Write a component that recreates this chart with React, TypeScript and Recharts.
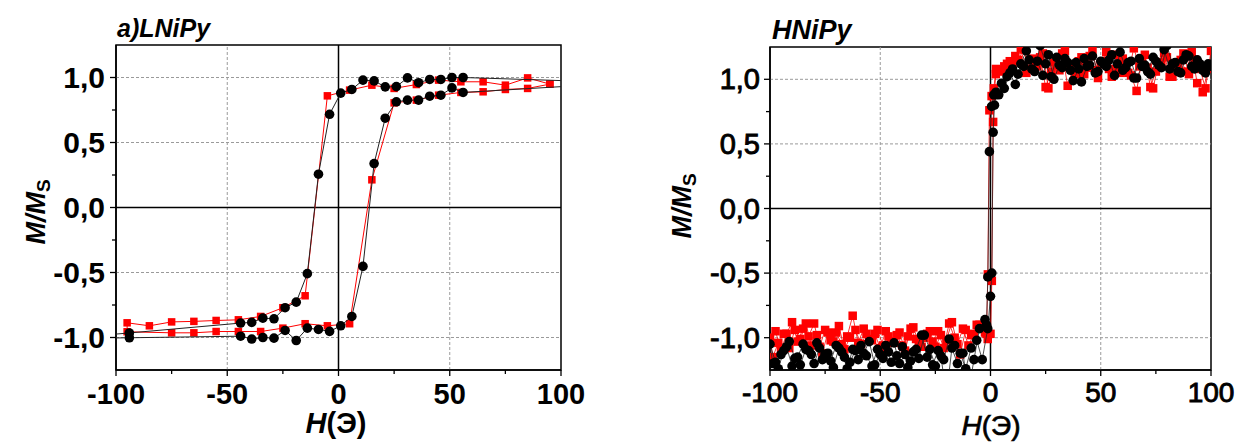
import { ScatterChart, Scatter, XAxis, YAxis, ReferenceLine, ReferenceArea } from 'recharts';

// ---- a) LNiPy : loop read point by point (H in Oe, M/Ms) ----
// black circles: descending branch, then ascending branch (end points past ±100 are clipped)
const lBlackDownH = [130, 56, 51, 46, 41, 36, 31, 26, 21, 16, 11, 6, 1, -4, -9, -14, -19, -24, -29, -34, -39, -44, -94, -125];
const lBlackDownM = [0.96, 1.0, 1.0, 0.985, 0.985, 0.96, 0.997, 0.93, 0.928, 0.974, 0.98, 0.908, 0.88, 0.717, 0.256, -0.509, -0.728, -0.771, -0.856, -0.851, -0.884, -0.889, -0.965, -1.01];
const lBlackUpH = [-94, -44, -39, -34, -29, -24, -19, -14, -9, -4, 1, 6, 11, 16, 21, 26, 31, 36, 41, 46, 51, 56, 130];
const lBlackUpM = [-1.002, -0.99, -1.012, -1.0, -1.005, -0.946, -1.023, -0.928, -0.938, -0.953, -0.91, -0.838, -0.453, 0.338, 0.687, 0.813, 0.826, 0.826, 0.856, 0.864, 0.92, 0.885, 0.96];
// red squares
const lRedDownH = [95, 85, 75, 65, 55, 45, 35, 25, 15, 5, -5, -15, -25, -35, -45, -55, -65, -75, -85, -95];
const lRedDownM = [0.949, 0.997, 0.941, 0.967, 0.967, 0.98, 0.946, 0.916, 0.941, 0.903, 0.859, -0.679, -0.771, -0.838, -0.864, -0.869, -0.876, -0.88, -0.91, -0.887];
const lRedUpH = [-95, -75, -65, -55, -45, -35, -25, -15, -5, 5, 15, 25, 35, 45, 55, 65, 75, 85, 95];
const lRedUpM = [-0.956, -0.964, -0.964, -0.954, -0.954, -0.954, -0.928, -0.894, -0.91, -0.894, 0.213, 0.805, 0.826, 0.864, 0.885, 0.89, 0.908, 0.916, 0.949];

// ---- HNiPy : dense noisy loop, field grids per branch ----
const hDownHigh = [100, 97.5, 95, 92.5, 90, 87.5, 85, 82.5, 80, 77.5, 75, 72.5, 70, 67.5, 65, 62.5, 60, 57.5, 55, 52.5, 50, 47.5, 45, 42.5, 40, 37.5, 35, 32.5, 30, 27.5, 25, 22.5, 20, 17.5, 15, 12.5, 10, 7.5, 5, 2.5];
const hDownSwitch = [1.5, 0.5, -0.5, -1.2, -1.8];
const hDownLow = [-2.5, -5, -7.5, -10, -12.5, -15, -17.5, -20, -22.5, -25, -27.5, -30, -32.5, -35, -37.5, -40, -42.5, -45, -47.5, -50, -52.5, -55, -57.5, -60, -62.5, -65, -67.5, -70, -72.5, -75, -77.5, -80, -82.5, -85, -87.5, -90, -92.5, -95, -97.5, -100];
const hUpLow = [-98.75, -96.25, -93.75, -91.25, -88.75, -86.25, -83.75, -81.25, -78.75, -76.25, -73.75, -71.25, -68.75, -66.25, -63.75, -61.25, -58.75, -56.25, -53.75, -51.25, -48.75, -46.25, -43.75, -41.25, -38.75, -36.25, -33.75, -31.25, -28.75, -26.25, -23.75, -21.25, -18.75, -16.25, -13.75, -11.25, -8.75, -6.25, -3.75, -1.25];
const hUpSwitch = [0, 0.6, 1.2, 1.8, 2.4];
const hUpHigh = [3.75, 6.25, 8.75, 11.25, 13.75, 16.25, 18.75, 21.25, 23.75, 26.25, 28.75, 31.25, 33.75, 36.25, 38.75, 41.25, 43.75, 46.25, 48.75, 51.25, 53.75, 56.25, 58.75, 61.25, 63.75, 66.25, 68.75, 71.25, 73.75, 76.25, 78.75, 81.25, 83.75, 86.25, 88.75, 91.25, 93.75, 96.25, 98.75];

// black
const bDownHigh = [1.10, 1.05, 1.12, 1.08, 1.18, 1.15, 1.06, 1.12, 1.26, 1.09, 1.14, 1.04, 1.11, 1.16, 1.01, 1.13, 1.07, 1.12, 1.19, 1.10, 1.14, 1.05, 1.11, 1.16, 1.08, 0.99, 1.13, 1.09, 1.17, 1.02, 1.12, 1.26, 1.06, 1.15, 1.10, 1.04, 1.08, 1.02, 0.97, 0.90];
const bDownSwitch = [0.88, 0.79, 0.44, -0.53, -0.90];
const bDownLow = [-0.86, -0.93, -1.17, -1.42, -1.12, -1.20, -1.08, -1.45, -1.14, -1.22, -1.09, -0.98, -1.16, -1.11, -1.23, -1.07, -1.14, -1.19, -1.06, -1.13, -1.21, -1.03, -1.12, -1.17, -1.09, -1.24, -1.11, -1.06, -1.18, -1.13, -1.08, -1.20, -1.10, -1.05, -1.15, -1.22, -1.07, -1.13, -1.19, -1.05];
const bUpLow = [-1.20, -1.24, -1.10, -1.03, -1.16, -1.21, -1.09, -1.13, -1.04, -1.17, -1.12, -1.23, -1.08, -1.15, -1.19, -1.10, -1.06, -1.14, -1.22, -1.09, -1.16, -1.11, -1.04, -1.20, -1.13, -1.18, -1.09, -0.98, -1.15, -1.21, -1.10, -1.17, -1.01, -1.06, -1.12, -1.24, -1.08, -1.02, -1.17, -0.93];
const bUpSwitch = [-0.68, -0.50, 0.59, 0.80, 0.88];
const bUpHigh = [0.88, 0.93, 1.05, 0.96, 1.12, 1.22, 1.08, 1.14, 1.03, 1.19, 1.00, 1.11, 1.16, 1.07, 1.13, 0.98, 1.10, 1.18, 1.06, 1.12, 1.15, 1.03, 1.21, 1.09, 1.14, 1.01, 1.10, 1.06, 1.17, 1.11, 1.23, 1.08, 1.13, 1.05, 1.19, 1.10, 1.15, 1.07, 1.12];

// red
const rDownHigh = [1.22, 0.93, 1.08, 1.15, 1.04, 1.20, 1.11, 1.02, 1.17, 1.13, 1.06, 0.94, 1.19, 1.10, 1.24, 1.05, 1.16, 1.09, 1.02, 1.21, 1.12, 1.07, 1.18, 1.04, 1.14, 1.09, 0.95, 1.20, 1.11, 1.06, 0.94, 1.17, 1.13, 1.08, 1.23, 1.15, 1.10, 1.12, 1.06, 1.08];
const rDownSwitch = [0.93, 0.87, 0.76, -0.51, -0.97];
const rDownLow = [-0.96, -0.90, -0.97, -1.06, -0.93, -1.05, -0.88, -1.02, -0.98, -1.07, -0.95, -1.00, -1.04, -0.92, -0.99, -1.06, -0.98, -1.03, -0.95, -1.08, -0.97, -1.01, -0.93, -1.04, -0.83, -0.99, -1.05, -0.96, -1.02, -0.94, -1.07, -0.89, -0.99, -0.93, -1.03, -0.88, -0.97, -1.10, -0.95, -1.00];
const rUpLow = [-1.15, -1.04, -0.97, -1.08, -0.94, -1.01, -0.89, -1.06, -0.98, -1.12, -0.96, -1.03, -0.91, -1.09, -1.00, -0.94, -1.05, -0.97, -1.02, -0.94, -1.06, -0.99, -1.04, -0.96, -1.10, -0.93, -1.01, -1.07, -0.97, -1.03, -0.95, -1.08, -0.89, -1.00, -1.13, -0.94, -0.98, -0.90, -0.92, -1.01];
const rUpSwitch = [-0.97, -0.56, 0.67, 0.90, 1.04];
const rUpHigh = [1.07, 1.10, 1.14, 1.18, 1.24, 1.05, 1.16, 1.10, 1.20, 0.93, 1.13, 1.07, 1.22, 1.11, 1.04, 1.17, 1.09, 1.23, 1.01, 1.14, 1.08, 1.19, 1.05, 1.12, 1.03, 0.91, 1.16, 1.09, 0.93, 1.13, 1.20, 1.02, 1.10, 1.15, 1.06, 1.21, 0.97, 0.90, 1.08];

const hTicks = [-100, -75, -50, -25, 0, 25, 50, 75, 100];
const hMajor = [-100, -50, 0, 50, 100];
const mTicks = [-1, -0.75, -0.5, -0.25, 0, 0.25, 0.5, 0.75, 1];
const mMajor = [-1, -0.5, 0, 0.5, 1];

const zip = (h: number[], m: number[]) => h.map((x, i) => ({ x, y: m[i] }));

const leftBlack = [...zip(lBlackDownH, lBlackDownM), ...zip(lBlackUpH, lBlackUpM)];
const leftRed = [...zip(lRedDownH, lRedDownM), ...zip(lRedUpH, lRedUpM)];

const rightBlack = [
  ...zip(hDownHigh, bDownHigh), ...zip(hDownSwitch, bDownSwitch), ...zip(hDownLow, bDownLow),
  ...zip(hUpLow, bUpLow), ...zip(hUpSwitch, bUpSwitch), ...zip(hUpHigh, bUpHigh),
];
const rightRed = [
  ...zip(hDownHigh, rDownHigh), ...zip(hDownSwitch, rDownSwitch), ...zip(hDownLow, rDownLow),
  ...zip(hUpLow, rUpLow), ...zip(hUpSwitch, rUpSwitch), ...zip(hUpHigh, rUpHigh),
];

const FONT = 'Arial, "Liberation Sans", sans-serif';
const TICK_SIZE = 6;

const fmtM = (v: number) => (v === 0 ? '0,0' : v.toFixed(1).replace('.', ','));

type TickStyle = { fontSize: number; bold: boolean; margin: number };

const makeYTick = (st: TickStyle) => (p: any) => {
  const v = p.payload.value;
  const major = mMajor.includes(v);
  const ax = p.x + TICK_SIZE + st.margin;
  return (
    <g>
      <line x1={ax - (major ? 6 : 4)} x2={ax} y1={p.y} y2={p.y} stroke="#000" strokeWidth={1.3} />
      {major && (
        <text x={p.x} y={p.y} textAnchor="end" dominantBaseline="central" fontFamily={FONT}
          fontSize={st.fontSize} fontWeight={st.bold ? 'bold' : 'normal'}
          stroke={st.bold ? 'none' : '#000'} strokeWidth={st.bold ? 0 : 0.9} fill="#000">
          {fmtM(v)}
        </text>
      )}
    </g>
  );
};

const makeXTick = (st: TickStyle) => (p: any) => {
  const v = p.payload.value;
  const major = hMajor.includes(v);
  const ay = p.y - TICK_SIZE - st.margin;
  return (
    <g>
      <line x1={p.x} x2={p.x} y1={ay} y2={ay + (major ? 6 : 4)} stroke="#000" strokeWidth={1.3} />
      {major && (
        <text x={p.x} y={p.y} dy="0.71em" textAnchor="middle" fontFamily={FONT}
          fontSize={st.fontSize} fontWeight={st.bold ? 'bold' : 'normal'}
          stroke={st.bold ? 'none' : '#000'} strokeWidth={st.bold ? 0 : 0.9} fill="#000">
          {String(v)}
        </text>
      )}
    </g>
  );
};

const dot = (r: number) => (p: any) => <circle cx={p.cx} cy={p.cy} r={r} fill="#000" />;
const square = (s: number) => (p: any) => (
  <rect x={p.cx - s / 2} y={p.cy - s / 2} width={s} height={s} fill="#ff0000" />
);

interface PanelProps {
  left: number;
  width: number;
  top: number;
  plotLeft: number;
  plotRight: number;
  red: { x: number; y: number }[];
  black: { x: number; y: number }[];
  yTick: TickStyle;
  xTick: TickStyle;
  dotR: number;
  sq: number;
  lineW: number;
}

const Panel = ({ left, width, top, plotLeft, plotRight, red, black, yTick, xTick, dotR, sq, lineW }: PanelProps) => (
  <div style={{ position: 'absolute', left, top: 0 }}>
    <ScatterChart width={width} height={442} margin={{ top, right: width - plotRight, left: 0, bottom: 0 }}>
      <XAxis type="number" dataKey="x" domain={[-100, 100]} ticks={hTicks} interval={0} allowDataOverflow
        height={72} tickSize={TICK_SIZE} tickMargin={xTick.margin} tickLine={false}
        axisLine={{ stroke: '#000', strokeWidth: 1.5 }} tick={makeXTick(xTick)} />
      <YAxis type="number" dataKey="y" domain={[-1.25, 1.25]} ticks={mTicks} interval={0} allowDataOverflow
        width={plotLeft} tickSize={TICK_SIZE} tickMargin={yTick.margin} tickLine={false}
        axisLine={{ stroke: '#000', strokeWidth: 1.5 }} tick={makeYTick(yTick)} />
      {[-50, 50].map((v) => (
        <ReferenceLine key={'gx' + v} x={v} stroke="#9a9a9a" strokeDasharray="3 2" strokeWidth={1} />
      ))}
      {[-1, -0.5, 0.5, 1].map((v) => (
        <ReferenceLine key={'gy' + v} y={v} stroke="#9a9a9a" strokeDasharray="3 2" strokeWidth={1} />
      ))}
      <ReferenceLine x={0} stroke="#000" strokeWidth={1.5} />
      <ReferenceLine y={0} stroke="#000" strokeWidth={1.5} />
      <Scatter data={red} line={{ stroke: '#ff0000', strokeWidth: lineW }} lineType="joint"
        shape={square(sq)} isAnimationActive={false} />
      <Scatter data={black} line={{ stroke: '#222', strokeWidth: lineW }} lineType="joint"
        shape={dot(dotR)} isAnimationActive={false} />
      <ReferenceArea x1={-100} x2={100} y1={-1.25} y2={1.25} fill="none" stroke="#000" strokeWidth={1.5} />
    </ScatterChart>
  </div>
);

export default function App() {
  return (
    <div style={{ position: 'absolute', left: 0, top: 0, width: 1238, height: 442, background: '#fff', overflow: 'hidden' }}>
      <Panel left={0} width={620} top={45} plotLeft={116} plotRight={561} red={leftRed} black={leftBlack}
        yTick={{ fontSize: 30, bold: true, margin: 5 }} xTick={{ fontSize: 29, bold: true, margin: 7 }}
        dotR={4.8} sq={7.5} lineW={1} />
      <Panel left={640} width={598} top={47} plotLeft={130} plotRight={571} red={rightRed} black={rightBlack}
        yTick={{ fontSize: 29, bold: false, margin: 4 }} xTick={{ fontSize: 28, bold: false, margin: 6 }}
        dotR={4.8} sq={8.5} lineW={0.8} />
      <svg width={1238} height={442} style={{ position: 'absolute', left: 0, top: 0, pointerEvents: 'none' }}>
        <text x={117} y={37} fontFamily={FONT} fontSize={25} fontWeight="bold" fontStyle="italic">a)LNiPy</text>
        <text x={772} y={39} fontFamily={FONT} fontSize={27} fontWeight="bold" fontStyle="italic">HNiPy</text>
        <text x={36} y={212} transform="rotate(-90 36 212)" textAnchor="middle" dominantBaseline="central"
          fontFamily={FONT} fontSize={27} fontWeight="bold" fontStyle="italic">
          M/M<tspan fontSize={19} dy={7} fontStyle="normal">S</tspan>
        </text>
        <text x={682} y={206} transform="rotate(-90 682 206)" textAnchor="middle" dominantBaseline="central"
          fontFamily={FONT} fontSize={27} fontWeight="bold" fontStyle="italic">
          M/M<tspan fontSize={19} dy={7} fontStyle="normal">S</tspan>
        </text>
        <text x={336} y={433} textAnchor="middle" fontFamily={FONT} fontSize={29} fontWeight="bold">
          <tspan fontStyle="italic">H</tspan>(Э)
        </text>
        <text x={991} y={435} textAnchor="middle" fontFamily={FONT} fontSize={28} stroke="#000" strokeWidth={0.7}>
          <tspan fontStyle="italic">H</tspan>(Э)
        </text>
      </svg>
    </div>
  );
}
